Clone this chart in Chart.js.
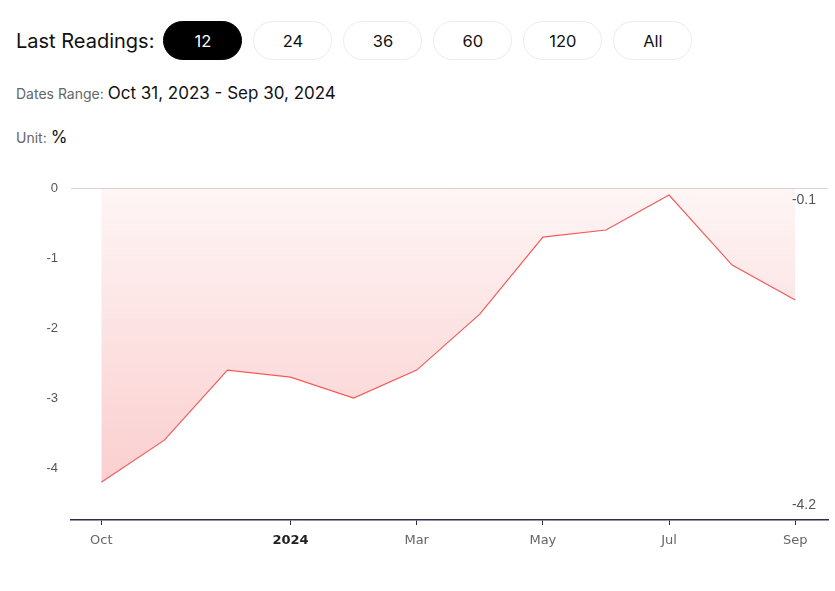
<!DOCTYPE html>
<html>
<head>
<meta charset="utf-8">
<script src="https://cdn.jsdelivr.net/npm/chart.js@4.4.0/dist/chart.umd.min.js"></script>
<style>
    body { margin: 0; background: #fff; font-family: Inter, "Noto Sans", sans-serif; width: 835px; height: 591px; position: relative; overflow: hidden; }
    .readings { position: absolute; left: 16px; top: 21px; display: flex; align-items: center; }
    .readings .lbl { font-size: 20px; color: #111; margin-right: 9px; }
    .pill { width: 77px; height: 37px; border: 1px solid #ececec; border-radius: 20px; display: flex; align-items: center; justify-content: center; font-size: 16.5px; color: #111; margin-right: 11px; }
    .pill.active { background: #000; color: #fff; border-color: #000; }
    .info { position: absolute; left: 16px; font-size: 14px; color: #666; }
    .info b { font-weight: normal; color: #111; font-size: 17px; }
    #chart-wrap { position: absolute; left: 0; top: 150px; width: 835px; height: 420px; }
</style>
</head>
<body>
<div class="readings">
    <span class="lbl">Last Readings:</span>
    <div class="pill active">12</div>
    <div class="pill">24</div>
    <div class="pill">36</div>
    <div class="pill">60</div>
    <div class="pill">120</div>
    <div class="pill">All</div>
</div>
<div class="info" style="top:83px">Dates Range: <b>Oct 31, 2023 - Sep 30, 2024</b></div>
<div class="info" style="top:127px">Unit: <b>%</b></div>
<div id="chart-wrap"><canvas id="chart"></canvas></div>
<script>
// Data
const months = ['Oct', 'Nov', 'Dec', 'Jan', 'Feb', 'Mar', 'Apr', 'May', 'Jun', 'Jul', 'Aug', 'Sep'];
const values = [-4.2, -3.6, -2.6, -2.7, -3.0, -2.6, -1.8, -0.7, -0.6, -0.1, -1.1, -1.6];
const tickIdx = [0, 3, 5, 7, 9, 11];
const tickLabels = { 0: 'Oct', 3: '2024', 5: 'Mar', 7: 'May', 9: 'Jul', 11: 'Sep' };
const yTicks = [0, -1, -2, -3, -4];

const points = values.map((v, i) => ({ x: i, y: v }));

// max / min labels on the right
const extremesPlugin = {
    id: 'extremes',
    afterDraw(chart) {
        const ctx = chart.ctx;
        const a = chart.chartArea;
        ctx.save();
        ctx.font = '14px "Liberation Sans", Arial, sans-serif';
        ctx.fillStyle = '#555';
        ctx.textAlign = 'right';
        ctx.textBaseline = 'middle';
        ctx.fillText(Math.max(...values).toFixed(1), a.right - 12, a.top + 12);
        ctx.fillText(Math.min(...values).toFixed(1), a.right - 12, a.bottom - 15);
        ctx.restore();
    }
};

const ctx = document.getElementById('chart').getContext('2d');
new Chart(ctx, {
    type: 'line',
    data: {
        datasets: [{
            data: points,
            borderColor: '#f25a5a',
            borderWidth: 1.2,
            pointRadius: 0,
            tension: 0,
            fill: 'origin',
            backgroundColor: function(c) {
                const area = c.chart.chartArea;
                if (!area) return 'rgba(240,90,90,0.1)';
                const g = c.chart.ctx.createLinearGradient(0, area.top, 0, area.bottom);
                g.addColorStop(0, 'rgba(240,90,90,0.06)');
                g.addColorStop(1, 'rgba(240,90,90,0.32)');
                return g;
            }
        }]
    },
    options: {
        responsive: true,
        maintainAspectRatio: false,
        animation: false,
        layout: { padding: { top: 38, right: 7, left: 0, bottom: 0 } },
        plugins: { legend: { display: false }, tooltip: { enabled: false } },
        scales: {
            x: {
                type: 'linear',
                min: -0.48,
                max: 11.52,
                afterBuildTicks: s => { s.ticks = tickIdx.map(v => ({ value: v })); },
                afterFit: s => { s.height = 50; },
                grid: { drawOnChartArea: false, drawTicks: true, tickLength: 5, color: '#2b2d4a' },
                border: { color: '#2b2d4a', width: 1.5 },
                ticks: {
                    padding: 8,
                    maxRotation: 0,
                    color: c => c.tick && c.tick.value === 3 ? '#222' : '#666',
                    font: c => c.tick && c.tick.value === 3
                        ? { family: '"DejaVu Sans", sans-serif', size: 13, weight: 'bold' }
                        : { family: '"DejaVu Sans", sans-serif', size: 13 },
                    callback: v => tickLabels[v] || ''
                }
            },
            y: {
                min: -4.74,
                max: 0,
                afterBuildTicks: s => { s.ticks = yTicks.map(v => ({ value: v })); },
                afterFit: s => { s.width = 71; },
                border: { display: false },
                grid: {
                    drawTicks: false,
                    color: c => c.tick && c.tick.value === 0 ? '#d6d6d6' : 'rgba(0,0,0,0)'
                },
                ticks: {
                    padding: 13,
                    color: '#555',
                    font: { family: '"Liberation Sans", Arial, sans-serif', size: 13 },
                    callback: v => String(v)
                }
            }
        }
    },
    plugins: [extremesPlugin]
});
</script>
</body>
</html>
